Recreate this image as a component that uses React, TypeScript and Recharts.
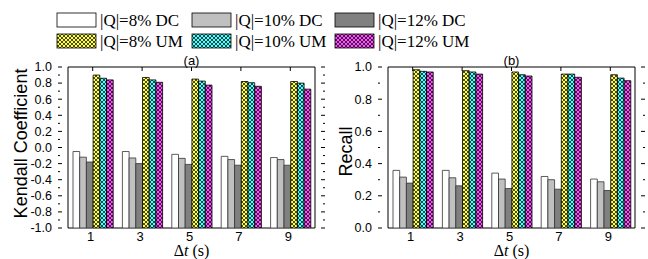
import { BarChart, Bar, XAxis, YAxis, ReferenceArea } from 'recharts'

const steps = ['1', '3', '5', '7', '9']

// Kendall coefficient, panel (a)
const kendallDc8 = [-0.05, -0.05, -0.085, -0.11, -0.125]
const kendallDc10 = [-0.12, -0.13, -0.135, -0.15, -0.15]
const kendallDc12 = [-0.18, -0.2, -0.21, -0.22, -0.22]
const kendallUm8 = [0.9, 0.87, 0.85, 0.82, 0.82]
const kendallUm10 = [0.86, 0.84, 0.825, 0.805, 0.8]
const kendallUm12 = [0.84, 0.81, 0.775, 0.76, 0.725]

// Recall, panel (b)
const recallDc8 = [0.358, 0.358, 0.341, 0.32, 0.304]
const recallDc10 = [0.316, 0.312, 0.304, 0.3, 0.287]
const recallDc12 = [0.279, 0.262, 0.245, 0.241, 0.233]
const recallUm8 = [0.983, 0.977, 0.969, 0.956, 0.952]
const recallUm10 = [0.973, 0.969, 0.952, 0.956, 0.931]
const recallUm12 = [0.969, 0.956, 0.944, 0.936, 0.915]

const kendallMajor = [-1.0, -0.8, -0.6, -0.4, -0.2, 0.0, 0.2, 0.4, 0.6, 0.8, 1.0]
const kendallMinor = [-0.9, -0.7, -0.5, -0.3, -0.1, 0.1, 0.3, 0.5, 0.7, 0.9]
const recallMajor = [0.0, 0.2, 0.4, 0.6, 0.8, 1.0]
const recallMinor = [0.1, 0.3, 0.5, 0.7, 0.9]

const seriesNames = ['|Q|=8% DC', '|Q|=10% DC', '|Q|=12% DC', '|Q|=8% UM', '|Q|=10% UM', '|Q|=12% UM']

const keys = ['dc8', 'dc10', 'dc12', 'um8', 'um10', 'um12']
const fills = ['#ffffff', '#c0c0c0', '#808080', 'url(#hatchY)', 'url(#hatchC)', 'url(#hatchM)']

const PLOT_W = 267
const PLOT_TOP = 67
const sans = '"Liberation Sans", Arial, sans-serif'
const serif = '"Liberation Serif", "Times New Roman", serif'

// panel (a) bars start at -1.0 so they are range bars
const kendallData = steps.map((t, i) => ({
  t,
  dc8: [-1, kendallDc8[i]],
  dc10: [-1, kendallDc10[i]],
  dc12: [-1, kendallDc12[i]],
  um8: [-1, kendallUm8[i]],
  um10: [-1, kendallUm10[i]],
  um12: [-1, kendallUm12[i]],
}))

const recallData = steps.map((t, i) => ({
  t,
  dc8: recallDc8[i],
  dc10: recallDc10[i],
  dc12: recallDc12[i],
  um8: recallUm8[i],
  um10: recallUm10[i],
  um12: recallUm12[i],
}))

function makeYTick(major: number[]) {
  return (props: any) => {
    const { x, y, payload } = props
    const ax = x + 6
    const isMajor = major.some((m) => Math.abs(m - payload.value) < 1e-6)
    const len = isMajor ? 4 : 2
    return (
      <g>
        <line x1={ax} y1={y} x2={ax + len} y2={y} stroke="#000" />
        <line x1={ax + PLOT_W - len} y1={y} x2={ax + PLOT_W} y2={y} stroke="#000" />
        {isMajor && (
          <text x={x} y={y} dy="0.35em" textAnchor="end" fontSize={12.5} fontFamily={sans} fill="#000">
            {payload.value.toFixed(1)}
          </text>
        )}
      </g>
    )
  }
}

const XTick = (props: any) => {
  const { x, y, payload } = props
  return (
    <g>
      <line x1={x} y1={PLOT_TOP} x2={x} y2={PLOT_TOP + 4} stroke="#000" />
      <text x={x - 2} y={y} dy="0.71em" textAnchor="middle" fontSize={13} fontFamily={sans} fill="#000">
        {payload.value}
      </text>
    </g>
  )
}

function Panel({
  data,
  domain,
  major,
  minor,
  yLabel,
  title,
  labelX,
  labelShift,
  rightMargin,
}: {
  data: any[]
  domain: [number, number]
  major: number[]
  minor: number[]
  yLabel: string
  title: string
  labelX: number
  labelShift: number
  rightMargin: number
}) {
  const ticks = [...major, ...minor].sort((a, b) => a - b)
  return (
    <BarChart
      width={58 + PLOT_W + rightMargin}
      height={259}
      data={data}
      margin={{ top: PLOT_TOP, right: rightMargin, left: 0, bottom: 0 }}
      barGap={0}
      barSize={6.7}
    >
      <XAxis
        dataKey="t"
        height={31}
        padding={{ left: 10, right: 10 }}
        axisLine={false}
        tickLine={false}
        tickSize={0}
        tickMargin={4}
        tick={XTick}
        interval={0}
        label={{
          content: ({ viewBox }: any) => (
            <text
              x={viewBox.x + viewBox.width / 2}
              y={viewBox.y + 28}
              textAnchor="middle"
              fontSize={16}
              fontFamily={serif}
              fill="#000"
            >
              Δ<tspan fontStyle="italic">t</tspan> (s)
            </text>
          ),
        }}
      />
      <YAxis
        type="number"
        domain={domain}
        ticks={ticks}
        width={58}
        axisLine={false}
        tickLine={false}
        tickSize={0}
        tickMargin={6}
        interval={0}
        tick={makeYTick(major)}
        allowDataOverflow
        label={{
          content: ({ viewBox }: any) => {
            const cx = labelX
            const cy = viewBox.y + viewBox.height / 2 + labelShift
            return (
              <text
                x={cx}
                y={cy}
                transform={`rotate(-90 ${cx} ${cy})`}
                textAnchor="middle"
                fontSize={18}
                fontFamily={sans}
                fill="#000"
              >
                {yLabel}
              </text>
            )
          },
        }}
      />
      {keys.map((k, i) => (
        <Bar
          key={k}
          dataKey={k}
          fill={fills[i]}
          stroke={i < 3 ? '#333' : '#000'}
          strokeWidth={0.8}
          isAnimationActive={false}
        />
      ))}
      <ReferenceArea
        y1={domain[0]}
        y2={domain[1]}
        fill="none"
        fillOpacity={0}
        stroke="#000"
        strokeWidth={1}
        ifOverflow="visible"
        label={{
          content: ({ viewBox }: any) => (
            <text
              x={viewBox.x + viewBox.width / 2}
              y={viewBox.y - 2}
              textAnchor="middle"
              fontSize={13}
              fontFamily={sans}
              fill="#000"
            >
              {title}
            </text>
          ),
        }}
      />
    </BarChart>
  )
}

function Legend() {
  const cols = [57, 192, 335]
  const rows = [13, 34]
  return (
    <svg width={648} height={52} style={{ position: 'absolute', left: 0, top: 0, overflow: 'visible' }}>
      <defs>
        {[
          ['hatchY', '#ffff50'],
          ['hatchC', '#50ffff'],
          ['hatchM', '#ff50ff'],
        ].map(([id, c]) => (
          <pattern key={id} id={id} patternUnits="userSpaceOnUse" width={4} height={4}>
            <rect width={4} height={4} fill={c} />
            <path d="M0,0 L4,4 M4,0 L0,4" stroke="#000" strokeWidth={0.7} />
          </pattern>
        ))}
      </defs>
      {seriesNames.map((name, i) => {
        const x = cols[i % 3]
        const y = rows[Math.floor(i / 3)]
        return (
          <g key={name}>
            <rect x={x} y={y} width={39} height={14} fill={fills[i]} stroke="#000" strokeWidth={0.8} />
            <text x={x + 43} y={y + 12.5} fontSize={17} fontFamily={serif} fill="#000">
              {name}
            </text>
          </g>
        )
      })}
    </svg>
  )
}

export default function App() {
  return (
    <div style={{ position: 'absolute', left: 0, top: 0, width: 648, height: 259, background: '#fff' }}>
      <Legend />
      <div style={{ position: 'absolute', left: 0, top: 0 }}>
        <Panel
          data={kendallData}
          domain={[-1, 1]}
          major={kendallMajor}
          minor={kendallMinor}
          yLabel="Kendall Coefficient"
          title="(a)"
          labelX={27}
          labelShift={-4}
          rightMargin={5}
        />
      </div>
      <div style={{ position: 'absolute', left: 320, top: 0 }}>
        <Panel
          data={recallData}
          domain={[0, 1]}
          major={recallMajor}
          minor={recallMinor}
          yLabel="Recall"
          title="(b)"
          labelX={32}
          labelShift={4}
          rightMargin={3}
        />
      </div>
    </div>
  )
}
